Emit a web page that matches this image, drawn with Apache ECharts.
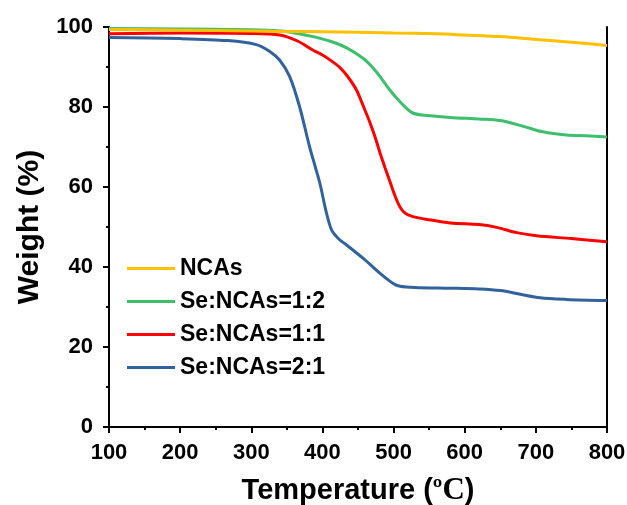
<!DOCTYPE html>
<head>
    <meta charset="utf-8">
    <title>TGA</title>
    <script type="text/javascript" src="https://cdn.jsdelivr.net/npm/echarts@6/dist/echarts.min.js"></script>
</head>
<body style="margin:0">
    <div id="main" style="width:627px;height:505px"></div>
    <script type="text/javascript">
    // 数据 [温度, 失重%]
    var seriesNames = ['NCAs', 'Se:NCAs=1:2', 'Se:NCAs=1:1', 'Se:NCAs=2:1'];
    var xTicks = [100, 200, 300, 400, 500, 600, 700, 800];
    var yTicks = [0, 20, 40, 60, 80, 100];
    var nca = [[100,99.4],[200,99.2],[300,99],[400,98.8],[500,98.5],[560,98.3],[600,98],[650,97.6],[700,96.9],[750,96.2],[800,95.4]];
    var se12 = [[100,99.6],[200,99.5],[300,99.3],[340,99],[365,98.4],[387,97.6],[410,96.5],[434,94.8],[457,92.2],[470,90],[481,87.6],[495,84.2],[509,81.3],[518,79.7],[527,78.5],[540,78],[580,77.4],[620,77],[650,76.6],[682,75.2],[710,73.8],[743,73],[770,72.8],[800,72.5]];
    var se11 = [[100,98.3],[200,98.5],[300,98.4],[340,98],[365,96.5],[387,94.2],[400,93],[412,91.6],[425,89.8],[436,87.5],[448,84.2],[458,80],[467,76],[474,72.5],[481,68.5],[488,64.8],[495,61.3],[502,57.8],[509,55],[516,53.5],[527,52.6],[550,51.8],[580,51],[620,50.6],[645,49.9],[673,48.6],[701,47.8],[750,47.1],[800,46.3]];
    var se21 = [[100,97.4],[200,97.1],[267,96.6],[307,95.6],[325,94],[340,91.7],[354,87.6],[368,80],[382,70],[390,65],[397,60.5],[405,54],[413,49.2],[423,47],[434,45.5],[457,42.2],[481,38.4],[500,35.8],[509,35.2],[530,34.9],[580,34.7],[620,34.5],[650,34.1],[678,33.2],[706,32.3],[743,31.9],[800,31.6]];
    var colors = ['#FFC000', '#3DBF6E', '#FF0000', '#31629B'];

    var myChart = echarts.init(document.getElementById('main'));
    var lbl = {color: '#000', fontWeight: 'bold', fontSize: 22, fontFamily: 'Liberation Sans, Arial'};
    var allData = [nca, se12, se11, se21];

    myChart.setOption({
        animation: false,
        color: colors,
        grid: {left: 109, right: 20, top: 27, bottom: 78, outerBoundsMode: 'none', containLabel: false},
        legend: {
            data: seriesNames,
            orient: 'vertical',
            left: 122, top: 252,
            itemWidth: 48, itemHeight: 3, itemGap: 10,
            icon: 'rect',
            textStyle: {color: '#000', fontWeight: 'bold', fontSize: 23, lineHeight: 23, fontFamily: 'Liberation Sans, Arial'}
        },
        xAxis: [{
            type: 'value', min: 100, max: 800, interval: 100,
            name: 'Temperature ({s|º}{t|C})', nameLocation: 'middle', nameGap: 48,
            nameTextStyle: {color: '#000', fontWeight: 'bold', fontSize: 29, fontFamily: 'Liberation Sans, Arial',
                rich: {s: {fontFamily: 'Liberation Serif', fontSize: 29, color: '#000'},
                       t: {fontFamily: 'Liberation Serif', fontSize: 31, color: '#000'}}},
            axisLine: {lineStyle: {color: '#000', width: 2}},
            axisTick: {inside: false, length: 6, lineStyle: {width: 2}},
            minorTick: {show: true, splitNumber: 2, length: 3, lineStyle: {color: '#000', width: 2}},
            axisLabel: Object.assign({margin: 15}, lbl),
            splitLine: {show: false}
        }, {
            type: 'value', min: 100, max: 800, position: 'top',
            axisLine: {show: true, lineStyle: {color: '#000', width: 2}},
            axisTick: {show: false}, axisLabel: {show: false}, splitLine: {show: false}
        }],
        yAxis: [{
            type: 'value', min: 0, max: 100, interval: 20,
            name: 'Weight (%)', nameLocation: 'middle', nameGap: 64,
            nameTextStyle: {color: '#000', fontWeight: 'bold', fontSize: 30, fontFamily: 'Liberation Sans, Arial'},
            axisLine: {show: true, lineStyle: {color: '#000', width: 2}},
            axisTick: {show: true, inside: false, length: 6, lineStyle: {width: 2}},
            minorTick: {show: true, splitNumber: 2, length: 3, lineStyle: {color: '#000', width: 2}},
            axisLabel: Object.assign({margin: 16}, lbl),
            splitLine: {show: false}
        }, {
            type: 'value', min: 0, max: 100, position: 'right',
            axisLine: {show: true, lineStyle: {color: '#000', width: 2}},
            axisTick: {show: false}, axisLabel: {show: false}, splitLine: {show: false}
        }],
        series: seriesNames.map(function (n, i) {
            return {
                name: n, type: 'line', data: allData[i],
                smooth: 0.3, showSymbol: false, symbol: 'none',
                lineStyle: {width: 3}, z: 10 - i
            };
        })
    });
    </script>
</body>
